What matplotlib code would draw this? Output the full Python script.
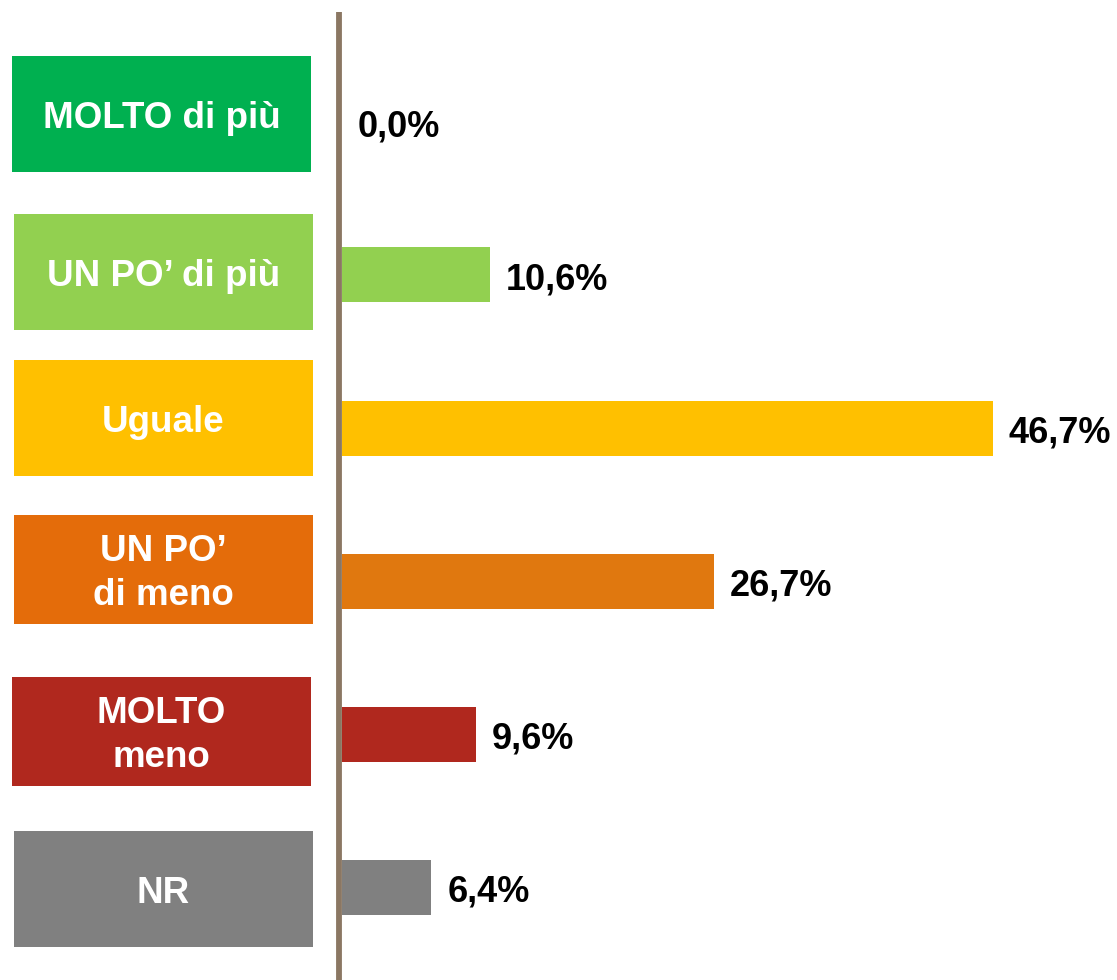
import matplotlib
matplotlib.use("Agg")
import matplotlib.pyplot as plt
from matplotlib.patches import Rectangle
from matplotlib.lines import Line2D

categories = ["MOLTO di più", "UN PO’ di più", "Uguale", "UN PO’\ndi meno", "MOLTO\nmeno", "NR"]
values = [0.0, 10.6, 46.7, 26.7, 9.6, 6.4]
value_labels = ["0,0%", "10,6%", "46,7%", "26,7%", "9,6%", "6,4%"]
box_colors = ["#00B050", "#92D050", "#FFC000", "#E46C0A", "#B0281E", "#808080"]
bar_colors = ["#00B050", "#92D050", "#FFC000", "#E0780F", "#B0281E", "#808080"]

W, H = 1117, 980
fig = plt.figure(figsize=(W / 100, H / 100), dpi=100)
plt.rcParams['font.family'] = ['Liberation Sans', 'DejaVu Sans']

px_per_unit = 13.94
x0 = 342
ax = fig.add_axes([x0 / W, 0, (W - x0) / W, 1])
ax.set_xlim(0, (W - x0) / px_per_unit)
first_c, step = 122, 153
ax.set_ylim((H - first_c) / step, -first_c / step)
ax.axis("off")

ypos = list(range(len(categories)))
ax.barh(ypos, values, height=55 / step, color=bar_colors)
for y, v, lab in zip(ypos, values, value_labels):
    ax.text(v + 16 / px_per_unit, y + 5 / step, lab, va="center", ha="left",
            fontsize=26, fontweight="bold", color="black")

# axis line
fig.add_artist(Line2D([339 / W, 339 / W], [0, 1 - 12 / H], color="#8B7763", lw=4.2,
                      solid_capstyle="butt"))

# label boxes (left, top, right, bottom in px)
boxes = [(12, 56, 311, 172), (14, 214, 313, 330), (14, 360, 313, 476),
         (14, 515, 313, 624), (12, 677, 311, 786), (14, 831, 313, 947)]
for (l, t, r, b), c, txt in zip(boxes, box_colors, categories):
    fig.add_artist(Rectangle((l / W, 1 - b / H), (r - l) / W, (b - t) / H,
                             transform=fig.transFigure, color=c, lw=0))
    fig.text((l + r) / 2 / W, 1 - ((t + b) / 2 + 4) / H, txt, ha="center", va="center",
             fontsize=26.5, fontweight="bold", color="white", linespacing=1.3)

fig.savefig("out.png", dpi=100)
